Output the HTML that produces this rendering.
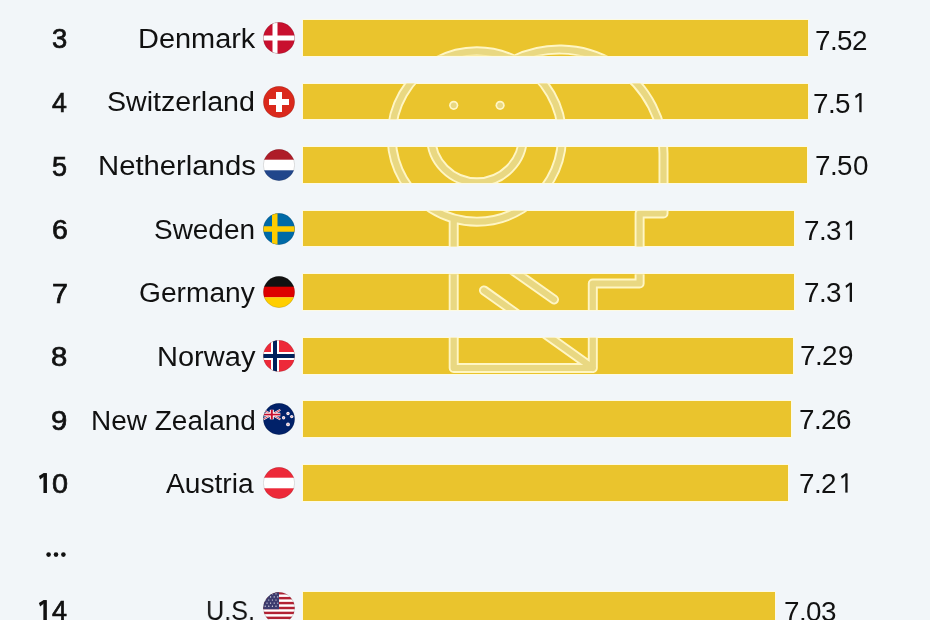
<!DOCTYPE html>
<html><head><meta charset="utf-8"><style>
html,body{margin:0;padding:0;}
body{width:930px;height:620px;overflow:hidden;background:#f2f6f9;position:relative;font-family:"Liberation Sans",sans-serif;color:#111;}
.t{position:absolute;white-space:nowrap;will-change:transform;font-size:27px;line-height:27px;transform-origin:0 50%;}
.rk{font-weight:normal;-webkit-text-stroke:0.7px #111;}
.bar{position:absolute;background:#eac42d;box-shadow:0 0 0 1px rgba(255,250,222,0.85);}
.g{text-align:center;transform:scaleX(1.03);transform-origin:50% 50%;}
.h1{color:transparent;-webkit-text-stroke-color:transparent;}
.fl{position:absolute;width:32px;height:32px;}
</style></head><body>

<div class="t rk" id="rk0" style="left:51.88px;top:26.20px;transform:scaleX(1.0154)">3</div>
<div class="t nm" id="nm0" style="left:137.76px;top:26.00px;transform:scaleX(1.0710)">Denmark</div>
<svg class="fl" style="left:263.3px;top:21.9px" viewBox="0 0 32 32"><defs><clipPath id="c0"><circle cx="16" cy="16" r="15.7"/></clipPath></defs><g clip-path="url(#c0)"><rect width="32" height="32" fill="#c8102e"/><rect x="9.5" width="5" height="32" fill="#fff"/><rect y="13.5" width="32" height="5" fill="#fff"/></g><circle cx="16" cy="16" r="15.7" fill="none" stroke="rgba(0,0,0,0.18)" stroke-width="0.7"/></svg>
<div class="bar" style="left:303px;top:20.00px;width:505.3px;height:35.8px"></div>
<div class="t g" style="left:814.50px;top:27.80px;width:15.27px">7</div><div class="t g" style="left:829.77px;top:27.80px;width:7.10px">.</div><div class="t g" style="left:836.87px;top:27.80px;width:15.27px">5</div><div class="t g" style="left:852.14px;top:27.80px;width:15.27px">2</div>
<div class="t rk" id="rk1" style="left:52.30px;top:89.90px;transform:scaleX(0.9800)">4</div>
<div class="t nm" id="nm1" style="left:107.28px;top:89.40px;transform:scaleX(1.0596)">Switzerland</div>
<svg class="fl" style="left:263.3px;top:85.5px" viewBox="0 0 32 32"><defs><clipPath id="c1"><circle cx="16" cy="16" r="15.7"/></clipPath></defs><g clip-path="url(#c1)"><rect width="32" height="32" fill="#da291c"/><rect x="13" y="6" width="6" height="20" fill="#fff"/><rect x="6" y="13" width="20" height="6" fill="#fff"/></g><circle cx="16" cy="16" r="15.7" fill="none" stroke="rgba(0,0,0,0.18)" stroke-width="0.7"/></svg>
<div class="bar" style="left:303px;top:83.56px;width:504.7px;height:35.8px"></div>
<div class="t g" style="left:813.10px;top:90.60px;width:15.27px">7</div><div class="t g" style="left:828.37px;top:90.60px;width:7.10px">.</div><div class="t g" style="left:835.47px;top:90.60px;width:15.27px">5</div>
<div class="t rk" id="rk2" style="left:52.21px;top:153.70px;transform:scaleX(0.9923)">5</div>
<div class="t nm" id="nm2" style="left:98.43px;top:153.40px;transform:scaleX(1.0838)">Netherlands</div>
<svg class="fl" style="left:263.3px;top:149.0px" viewBox="0 0 32 32"><defs><clipPath id="c2"><circle cx="16" cy="16" r="15.7"/></clipPath></defs><g clip-path="url(#c2)"><rect width="32" height="11" fill="#ae1c28"/><rect y="10.7" width="32" height="10.7" fill="#fff"/><rect y="21.3" width="32" height="11" fill="#21468b"/></g><circle cx="16" cy="16" r="15.7" fill="none" stroke="rgba(0,0,0,0.18)" stroke-width="0.7"/></svg>
<div class="bar" style="left:303px;top:147.12px;width:504.0px;height:35.8px"></div>
<div class="t g" style="left:815.00px;top:153.30px;width:15.27px">7</div><div class="t g" style="left:830.27px;top:153.30px;width:7.10px">.</div><div class="t g" style="left:837.37px;top:153.30px;width:15.27px">5</div><div class="t g" style="left:852.64px;top:153.30px;width:15.27px">0</div>
<div class="t rk" id="rk3" style="left:51.85px;top:217.40px;transform:scaleX(1.0538)">6</div>
<div class="t nm" id="nm3" style="left:154.43px;top:216.90px;transform:scaleX(1.0351)">Sweden</div>
<svg class="fl" style="left:263.3px;top:212.6px" viewBox="0 0 32 32"><defs><clipPath id="c3"><circle cx="16" cy="16" r="15.7"/></clipPath></defs><g clip-path="url(#c3)"><rect width="32" height="32" fill="#006aa7"/><rect x="9" width="5.5" height="32" fill="#fecc00"/><rect y="13.25" width="32" height="5.5" fill="#fecc00"/></g><circle cx="16" cy="16" r="15.7" fill="none" stroke="rgba(0,0,0,0.18)" stroke-width="0.7"/></svg>
<div class="bar" style="left:303px;top:210.68px;width:491.2px;height:35.8px"></div>
<div class="t g" style="left:803.60px;top:218.30px;width:15.27px">7</div><div class="t g" style="left:818.87px;top:218.30px;width:7.10px">.</div><div class="t g" style="left:825.97px;top:218.30px;width:15.27px">3</div>
<div class="t rk" id="rk4" style="left:51.74px;top:280.70px;transform:scaleX(1.0615)">7</div>
<div class="t nm" id="nm4" style="left:139.06px;top:279.90px;transform:scaleX(1.0427)">Germany</div>
<svg class="fl" style="left:263.3px;top:276.1px" viewBox="0 0 32 32"><defs><clipPath id="c4"><circle cx="16" cy="16" r="15.7"/></clipPath></defs><g clip-path="url(#c4)"><rect width="32" height="11" fill="#111"/><rect y="10.7" width="32" height="10.7" fill="#dd0000"/><rect y="21.3" width="32" height="11" fill="#ffce00"/></g><circle cx="16" cy="16" r="15.7" fill="none" stroke="rgba(0,0,0,0.18)" stroke-width="0.7"/></svg>
<div class="bar" style="left:303px;top:274.24px;width:491.2px;height:35.8px"></div>
<div class="t g" style="left:803.50px;top:280.30px;width:15.27px">7</div><div class="t g" style="left:818.77px;top:280.30px;width:7.10px">.</div><div class="t g" style="left:825.87px;top:280.30px;width:15.27px">3</div>
<div class="t rk" id="rk5" style="left:51.42px;top:343.90px;transform:scaleX(1.0846)">8</div>
<div class="t nm" id="nm5" style="left:156.95px;top:343.50px;transform:scaleX(1.0753)">Norway</div>
<svg class="fl" style="left:263.3px;top:339.7px" viewBox="0 0 32 32"><defs><clipPath id="c5"><circle cx="16" cy="16" r="15.7"/></clipPath></defs><g clip-path="url(#c5)"><rect width="32" height="32" fill="#ed2939"/><rect x="8" width="8" height="32" fill="#fff"/><rect y="12" width="32" height="8" fill="#fff"/><rect x="10" width="4" height="32" fill="#00205b"/><rect y="14" width="32" height="4" fill="#00205b"/></g><circle cx="16" cy="16" r="15.7" fill="none" stroke="rgba(0,0,0,0.18)" stroke-width="0.7"/></svg>
<div class="bar" style="left:303px;top:337.80px;width:489.9px;height:35.8px"></div>
<div class="t g" style="left:800.00px;top:343.30px;width:15.27px">7</div><div class="t g" style="left:815.27px;top:343.30px;width:7.10px">.</div><div class="t g" style="left:822.37px;top:343.30px;width:15.27px">2</div><div class="t g" style="left:837.64px;top:343.30px;width:15.27px">9</div>
<div class="t rk" id="rk6" style="left:51.42px;top:407.70px;transform:scaleX(1.0846)">9</div>
<div class="t nm" id="nm6" style="left:90.53px;top:407.80px;transform:scaleX(1.0361)">New Zealand</div>
<svg class="fl" style="left:263.3px;top:403.3px" viewBox="0 0 32 32"><defs><clipPath id="c6"><circle cx="16" cy="16" r="15.7"/></clipPath></defs><g clip-path="url(#c6)"><rect width="32" height="32" fill="#012169"/><g transform="translate(0.3,6.8)"><rect width="17" height="9.5" fill="#012169"/><path d="M0,0 L17,9.5 M17,0 L0,9.5" stroke="#fff" stroke-width="2"/><path d="M0,0 L17,9.5 M17,0 L0,9.5" stroke="#c8102e" stroke-width="0.8"/><rect x="6.5" width="4" height="9.5" fill="#fff"/><rect y="2.9" width="17" height="3.7" fill="#fff"/><rect x="7.5" width="2" height="9.5" fill="#c8102e"/><rect y="3.9" width="17" height="1.7" fill="#c8102e"/></g><g fill="#f4f0f4"><circle cx="25" cy="10.5" r="1.7"/><circle cx="28.7" cy="13.6" r="1.7"/><circle cx="20.6" cy="14.8" r="1.7"/><circle cx="25" cy="21.4" r="1.9"/></g><g fill="#e8a0b0"><circle cx="25" cy="10.5" r="0.7"/><circle cx="28.7" cy="13.6" r="0.7"/><circle cx="20.6" cy="14.8" r="0.7"/><circle cx="25" cy="21.4" r="0.8"/></g></g><circle cx="16" cy="16" r="15.7" fill="none" stroke="rgba(0,0,0,0.18)" stroke-width="0.7"/></svg>
<div class="bar" style="left:303px;top:401.36px;width:487.9px;height:35.8px"></div>
<div class="t g" style="left:798.80px;top:407.10px;width:15.27px">7</div><div class="t g" style="left:814.07px;top:407.10px;width:7.10px">.</div><div class="t g" style="left:821.17px;top:407.10px;width:15.27px">2</div><div class="t g" style="left:836.44px;top:407.10px;width:15.27px">6</div>
<div class="t rk" id="rk7" style="left:36.37px;top:471.40px;transform:scaleX(1.0667)"><span class="h1">1</span>0</div>
<div class="t nm" id="nm7" style="left:166.00px;top:470.90px;transform:scaleX(1.0417)">Austria</div>
<svg class="fl" style="left:263.3px;top:466.8px" viewBox="0 0 32 32"><defs><clipPath id="c7"><circle cx="16" cy="16" r="15.7"/></clipPath></defs><g clip-path="url(#c7)"><rect width="32" height="11" fill="#ed2939"/><rect y="10.7" width="32" height="10.7" fill="#fff"/><rect y="21.3" width="32" height="11" fill="#ed2939"/></g><circle cx="16" cy="16" r="15.7" fill="none" stroke="rgba(0,0,0,0.18)" stroke-width="0.7"/></svg>
<div class="bar" style="left:303px;top:464.92px;width:484.5px;height:35.8px"></div>
<div class="t g" style="left:799.10px;top:471.00px;width:15.27px">7</div><div class="t g" style="left:814.37px;top:471.00px;width:7.10px">.</div><div class="t g" style="left:821.47px;top:471.00px;width:15.27px">2</div>
<svg style="position:absolute;left:0;top:540px" width="80" height="30"><g fill="#111"><circle cx="48.6" cy="14.6" r="2.3"/><circle cx="56" cy="14.6" r="2.3"/><circle cx="63.4" cy="14.6" r="2.3"/></g></svg>
<div class="t rk" id="rk9" style="left:36.73px;top:598.40px;transform:scaleX(0.9857)"><span class="h1">1</span>4</div>
<div class="t nm" id="nm9" style="left:206.43px;top:597.90px;transform:scaleX(0.9333)">U.S.</div>
<svg class="fl" style="left:263.3px;top:591.9px" viewBox="0 0 32 32"><defs><clipPath id="c9"><circle cx="16" cy="16" r="15.7"/></clipPath></defs><g clip-path="url(#c9)"><rect width="32" height="32" fill="#fff"/><rect y="0.00" width="32" height="2.46" fill="#b22234"/><rect y="4.92" width="32" height="2.46" fill="#b22234"/><rect y="9.85" width="32" height="2.46" fill="#b22234"/><rect y="14.77" width="32" height="2.46" fill="#b22234"/><rect y="19.69" width="32" height="2.46" fill="#b22234"/><rect y="24.62" width="32" height="2.46" fill="#b22234"/><rect y="29.54" width="32" height="2.46" fill="#b22234"/><rect width="16" height="17.23" fill="#3c3b6e"/><circle cx="2.2" cy="1.8" r="0.6" fill="#fff"/><circle cx="5.8" cy="1.8" r="0.6" fill="#fff"/><circle cx="9.4" cy="1.8" r="0.6" fill="#fff"/><circle cx="13.0" cy="1.8" r="0.6" fill="#fff"/><circle cx="4.0" cy="4.9" r="0.6" fill="#fff"/><circle cx="7.6" cy="4.9" r="0.6" fill="#fff"/><circle cx="11.2" cy="4.9" r="0.6" fill="#fff"/><circle cx="14.8" cy="4.9" r="0.6" fill="#fff"/><circle cx="2.2" cy="8.0" r="0.6" fill="#fff"/><circle cx="5.8" cy="8.0" r="0.6" fill="#fff"/><circle cx="9.4" cy="8.0" r="0.6" fill="#fff"/><circle cx="13.0" cy="8.0" r="0.6" fill="#fff"/><circle cx="4.0" cy="11.1" r="0.6" fill="#fff"/><circle cx="7.6" cy="11.1" r="0.6" fill="#fff"/><circle cx="11.2" cy="11.1" r="0.6" fill="#fff"/><circle cx="14.8" cy="11.1" r="0.6" fill="#fff"/><circle cx="2.2" cy="14.2" r="0.6" fill="#fff"/><circle cx="5.8" cy="14.2" r="0.6" fill="#fff"/><circle cx="9.4" cy="14.2" r="0.6" fill="#fff"/><circle cx="13.0" cy="14.2" r="0.6" fill="#fff"/></g><circle cx="16" cy="16" r="15.7" fill="none" stroke="rgba(0,0,0,0.18)" stroke-width="0.7"/></svg>
<div class="bar" style="left:303px;top:592.04px;width:472.4px;height:35.8px"></div>
<div class="t g" style="left:783.50px;top:598.80px;width:15.27px">7</div><div class="t g" style="left:798.77px;top:598.80px;width:7.10px">.</div><div class="t g" style="left:805.87px;top:598.80px;width:15.27px">0</div><div class="t g" style="left:821.14px;top:598.80px;width:15.27px">3</div>
<svg style="position:absolute;left:0;top:0" width="930" height="620" viewBox="0 0 930 620"><defs><clipPath id="bc"><rect x="303" y="20.00" width="505.3" height="35.8"/><rect x="303" y="83.56" width="504.7" height="35.8"/><rect x="303" y="147.12" width="504.0" height="35.8"/><rect x="303" y="210.68" width="491.2" height="35.8"/><rect x="303" y="274.24" width="491.2" height="35.8"/><rect x="303" y="337.80" width="489.9" height="35.8"/><rect x="303" y="401.36" width="487.9" height="35.8"/><rect x="303" y="464.92" width="484.5" height="35.8"/><rect x="303" y="592.04" width="472.4" height="35.8"/></clipPath></defs><g clip-path="url(#bc)" fill="none" stroke-linecap="round" stroke-linejoin="round"><path d="M476.9,51.3 A85.2,85.2 0 1 1 476.8,51.3 Z M514.2,59.9 A104,104 0 0 1 663.5,153.5 L663.5,213.5 L639.6,213.5 L639.6,283.5 L592.8,283.5 L592.8,368 L453.7,368 L453.7,218.5 M431,136.3 A46,46 0 0 0 523,136.3 M484,290.4 L592.8,368 M491,255 L554,299.5 " stroke="#fff6c4" stroke-width="10"/><path d="M476.9,51.3 A85.2,85.2 0 1 1 476.8,51.3 Z M514.2,59.9 A104,104 0 0 1 663.5,153.5 L663.5,213.5 L639.6,213.5 L639.6,283.5 L592.8,283.5 L592.8,368 L453.7,368 L453.7,218.5 M431,136.3 A46,46 0 0 0 523,136.3 M484,290.4 L592.8,368 M491,255 L554,299.5 " stroke="#e9d882" stroke-width="6.2"/><g stroke="none"><circle cx="453.7" cy="105.3" r="4.6" fill="#fff6c4"/><circle cx="500.1" cy="105.3" r="4.6" fill="#fff6c4"/><circle cx="453.7" cy="105.3" r="2.9" fill="#e9d882"/><circle cx="500.1" cy="105.3" r="2.9" fill="#e9d882"/></g></g></svg>
<svg style="position:absolute;left:0;top:0" width="930" height="620" viewBox="0 0 930 620"><g fill="#111" stroke="#111" stroke-linecap="butt"><rect x="43.45" y="473.20" width="3.5" height="19.80" stroke="none"/><path d="M46.75,473.30 L43.45,473.20 L38.90,476.07 L40.12,479.57 L43.45,477.05 Z" stroke="none"/><rect x="43.35" y="600.20" width="3.5" height="20.80" stroke="none"/><path d="M46.65,600.30 L43.35,600.20 L38.90,603.08 L40.12,606.58 L43.35,604.05 Z" stroke="none"/><rect x="859.29" y="93.10" width="2.3" height="19.10" stroke="none"/><path d="M861.39,93.20 L859.29,93.10 L855.04,95.94 L855.84,98.23 L859.29,95.63 Z" stroke="none"/><rect x="849.79" y="220.80" width="2.3" height="19.10" stroke="none"/><path d="M851.89,220.90 L849.79,220.80 L845.54,223.64 L846.34,225.94 L849.79,223.33 Z" stroke="none"/><rect x="849.69" y="282.80" width="2.3" height="19.10" stroke="none"/><path d="M851.79,282.90 L849.69,282.80 L845.44,285.63 L846.24,287.94 L849.69,285.33 Z" stroke="none"/><rect x="845.29" y="473.50" width="2.3" height="19.10" stroke="none"/><path d="M847.39,473.60 L845.29,473.50 L841.04,476.34 L841.84,478.64 L845.29,476.03 Z" stroke="none"/></g></svg>
</body></html>
